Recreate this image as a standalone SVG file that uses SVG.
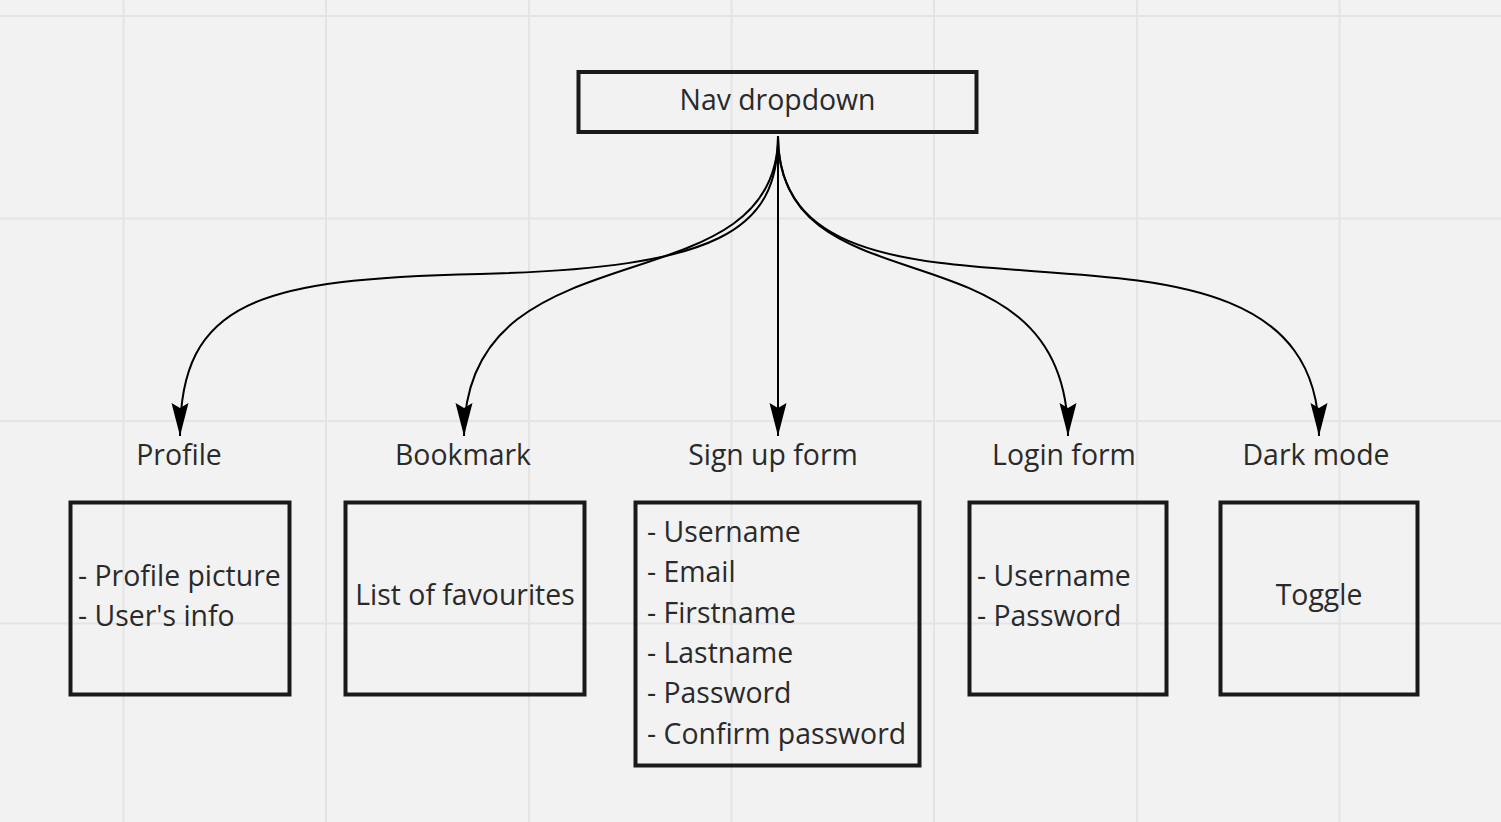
<svg xmlns="http://www.w3.org/2000/svg" width="1501" height="822" viewBox="0 0 1501 822">
<style>
.grid line{stroke:#e4e4e4;stroke-width:2}
.box{fill:none;stroke:#1a1a1a;stroke-width:4}
.t{font-family:"Open Sans","Noto Sans","Liberation Sans",sans-serif;font-size:28.4px;fill:#2a2a2a}
.c{text-anchor:middle}
.conn path{fill:none;stroke:#000;stroke-width:2;marker-end:url(#ah)}
</style>
<defs>
<marker id="ah" markerUnits="userSpaceOnUse" markerWidth="36" markerHeight="20" viewBox="0 0 36 20" refX="33" refY="10" orient="auto">
<path d="M0,1.5 L33,10 L0,18.5 L5,10 z" fill="#000"/>
</marker>
</defs>
<rect width="1501" height="822" fill="#f2f2f2"/>
<g class="grid">
<line x1="123.5" y1="0" x2="123.5" y2="822"/>
<line x1="326" y1="0" x2="326" y2="822"/>
<line x1="529" y1="0" x2="529" y2="822"/>
<line x1="731.5" y1="0" x2="731.5" y2="822"/>
<line x1="934" y1="0" x2="934" y2="822"/>
<line x1="1137" y1="0" x2="1137" y2="822"/>
<line x1="1339.5" y1="0" x2="1339.5" y2="822"/>
<line x1="0" y1="16" x2="1501" y2="16"/>
<line x1="0" y1="218.5" x2="1501" y2="218.5"/>
<line x1="0" y1="421" x2="1501" y2="421"/>
<line x1="0" y1="623.5" x2="1501" y2="623.5"/>
</g>
<g class="conn" id="connectors">
<path d="M778,136 C778,230 720,268 480,274 C260,279 180,300 180,436"/>
<path d="M778,136 C778,312 464,220 464,436"/>
<path d="M778,136 L778,436"/>
<path d="M778,136 C778,319 1068,213 1068,436"/>
<path d="M778,136 C778,380 1319,155 1319,436"/>
</g>
<g id="nav">
<rect class="box" x="578.5" y="72" width="398" height="60"/>
<text class="t c" x="777.5" y="110">Nav dropdown</text>
</g>
<g id="profile-label"><text class="t c" x="179" y="465">Profile</text></g>
<g id="bookmark-label"><text class="t c" x="463" y="465">Bookmark</text></g>
<g id="signup-label"><text class="t c" x="773" y="465">Sign up form</text></g>
<g id="login-label"><text class="t c" x="1064" y="465">Login form</text></g>
<g id="darkmode-label"><text class="t c" x="1316" y="465">Dark mode</text></g>
<g id="profile">
<rect class="box" x="70.5" y="502.5" width="219" height="192"/>
<text class="t" x="78" y="585.5">- Profile picture</text>
<text class="t" x="78" y="625.5">- User's info</text>
</g>
<g id="bookmark">
<rect class="box" x="345.5" y="502.5" width="239" height="192"/>
<text class="t c" x="465" y="605">List of favourites</text>
</g>
<g id="signup">
<rect class="box" x="635.5" y="502.5" width="284" height="263"/>
<text class="t" x="647" y="542">- Username</text>
<text class="t" x="647" y="582.3">- Email</text>
<text class="t" x="647" y="622.6">- Firstname</text>
<text class="t" x="647" y="662.9">- Lastname</text>
<text class="t" x="647" y="703.2">- Password</text>
<text class="t" x="647" y="743.5">- Confirm password</text>
</g>
<g id="login">
<rect class="box" x="969.5" y="502.5" width="197" height="192"/>
<text class="t" x="977" y="585.5">- Username</text>
<text class="t" x="977" y="625.5">- Password</text>
</g>
<g id="darkmode">
<rect class="box" x="1220.5" y="502.5" width="197" height="192"/>
<text class="t c" x="1319" y="605">Toggle</text>
</g>
</svg>
